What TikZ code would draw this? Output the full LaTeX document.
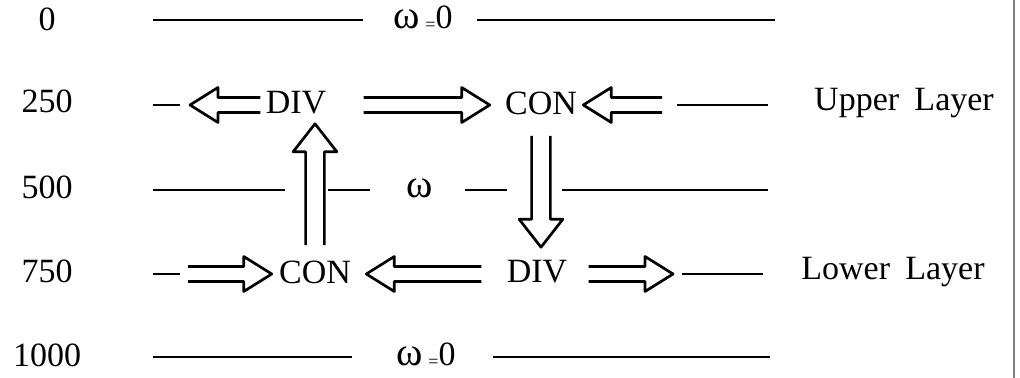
\documentclass[tikz,border=0pt]{standalone}
\usepackage{fontspec}
\setmainfont{Liberation Serif}
\usepackage{tikz}
\usetikzlibrary{calc}
\tikzset{
  level/.style={line width=1.1pt},
  fat/.style={line width=1.35pt, line join=round},
  lbl/.style={inner sep=0pt}
}
% hollow arrow: [width factor]{from}{to}{gap at start}{gap at end}
\newcommand{\fatarrow}[5][1]{%
  \draw[fat] let \p1=(#2), \p2=(#3),
    \n1={atan2(\y2-\y1,\x2-\x1)}, \n2={veclen(\x2-\x1,\y2-\y1)} in
    [shift={(\p1)}, rotate=\n1]
    ({#4*0.5pt},{#1*3.75pt}) -- ({\n2-#5*0.5pt-14pt},{#1*3.75pt})
    -- ({\n2-#5*0.5pt-14pt},{#1*8.75pt}) -- ({\n2-#5*0.5pt},0pt)
    -- ({\n2-#5*0.5pt-14pt},{-#1*8.75pt}) -- ({\n2-#5*0.5pt-14pt},{-#1*3.75pt})
    -- ({#4*0.5pt},{-#1*3.75pt});
}
\newcommand{\omz}{{\fontsize{20}{20}\selectfont ω}\,\raisebox{-1pt}{\small =}0}

\begin{document}
\begin{tikzpicture}[x=0.5pt, y=-0.5pt, every node/.style={font=\fontsize{17}{20}\selectfont}]
  \useasboundingbox (0,0) rectangle (1020,378);

  % depth labels
  \node[lbl] (d0) at (47,19) {0};
  \node[lbl] (d250) at (47,101) {250};
  \node[lbl] (d500) at (47,187) {500};
  \node[lbl] (d750) at (47,271) {750};
  \node[lbl] (d1000) at (47,355) {1000};

  % top and bottom, omega = 0
  \node[lbl] (wtop) at (423,18) {\omz};
  \draw[level] (153,20) -- (363,20);
  \draw[level] (477,20) -- (775,20);
  \node[lbl] (wbot) at (426,355) {\omz};
  \draw[level] (153,357) -- (352,357);
  \draw[level] (493,357) -- (770,357);

  % upper layer
  \coordinate (uA1) at (153,105);
  \coordinate (uA2) at (180,105);
  \coordinate (uB1) at (677,105);
  \coordinate (uB2) at (768,105);
  \draw[level] (uA1) -- (uA2);
  \draw[level] (uB1) -- (uB2);
  \node[lbl] (divU) at (296,103) {DIV};
  \node[lbl] (conU) at (541,103) {CON};
  \node[lbl] (upper) at (904,103) {Upper\hspace{0.45em}Layer};
  \fatarrow{divU.west |- uA2}{uA2}{5}{10}
  \fatarrow{divU.east |- uA2}{conU.west |- uA2}{37}{15}
  \fatarrow{uB1}{conU.east |- uB1}{15}{6}

  % middle, omega
  \node[lbl] (wmid) at (420,188) {\fontsize{20}{20}\selectfont ω};
  \draw[level] (153,190) -- (285,190);
  \draw[level] (328,190) -- (370,190);
  \draw[level] (465,190) -- (507,190);
  \draw[level] (562,190) -- (768,190);

  % lower layer
  \coordinate (lA1) at (153,274);
  \coordinate (lA2) at (180,274);
  \coordinate (lB1) at (682,274);
  \coordinate (lB2) at (763,274);
  \draw[level] (lA1) -- (lA2);
  \draw[level] (lB1) -- (lB2);
  \node[lbl] (conL) at (315,272) {CON};
  \node[lbl] (divL) at (537,272) {DIV};
  \node[lbl] (lower) at (893,272) {Lower\hspace{0.45em}Layer};
  \fatarrow{lA2}{conL.west |- lA2}{8}{7}
  \fatarrow{divL.west |- lA2}{conL.east |- lA2}{25}{15}
  \fatarrow{divL.east |- lB1}{lB1}{21}{9}

  % between the layers
  \fatarrow[1.25]{conL.north}{conL.north |- divU.south}{15}{9}
  \fatarrow[1.25]{conU.south}{conU.south |- divL.north}{21}{13}

  % frame edge
  \draw[gray, line width=0.6pt] (1014,0) -- (1014,378);
\end{tikzpicture}
\end{document}
